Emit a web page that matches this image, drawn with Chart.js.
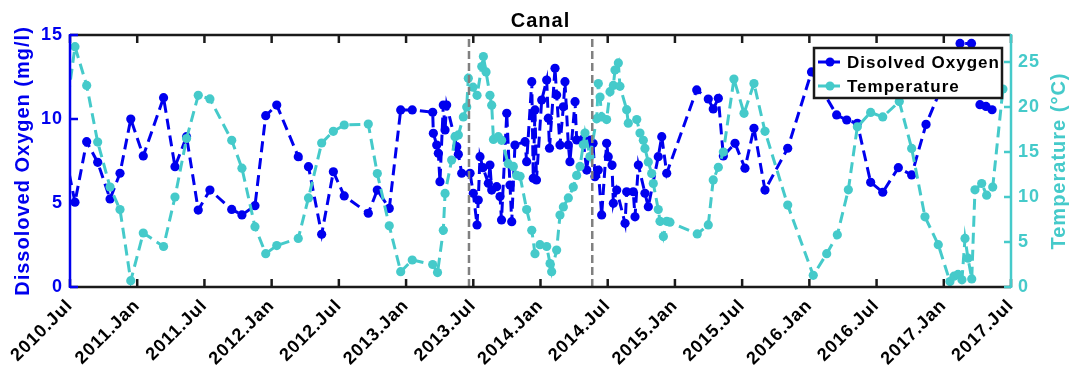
<!DOCTYPE html>
<html><head><meta charset="utf-8">
<script src="https://cdn.jsdelivr.net/npm/chart.js@4.4.1/dist/chart.umd.min.js"></script>
<style>html,body{margin:0;padding:0;background:#fff;}canvas{display:block;}</style>
</head><body>
<canvas id="c" width="1078" height="367"></canvas>
<script>
// ---- data (decimal years) ----
const doYears = [2010.470,2010.537,2010.624,2010.706,2010.798,2010.872,2010.952,2011.045,2011.196,2011.281,2011.367,2011.454,2011.541,2011.703,2011.779,2011.876,2011.956,2012.038,2012.198,2012.274,2012.372,2012.459,2012.540,2012.719,2012.786,2012.875,2012.960,2013.046,2013.198,2013.203,2013.228,2013.240,2013.252,2013.277,2013.290,2013.302,2013.377,2013.389,2013.414,2013.476,2013.500,2013.528,2013.537,2013.550,2013.572,2013.612,2013.624,2013.637,2013.674,2013.699,2013.710,2013.749,2013.773,2013.786,2013.810,2013.885,2013.897,2013.935,2013.946,2013.959,2013.970,2014.009,2014.046,2014.058,2014.067,2014.108,2014.120,2014.145,2014.170,2014.182,2014.207,2014.219,2014.257,2014.269,2014.316,2014.344,2014.368,2014.391,2014.405,2014.430,2014.455,2014.492,2014.504,2014.532,2014.542,2014.567,2014.629,2014.641,2014.690,2014.703,2014.728,2014.777,2014.802,2014.876,2014.902,2014.939,2015.162,2015.248,2015.285,2015.323,2015.360,2015.447,2015.521,2015.588,2015.670,2015.839,2016.016,2016.203,2016.278,2016.357,2016.456,2016.546,2016.662,2016.761,2016.868,2017.121,2017.206,2017.269,2017.314,2017.359];
const doValues = [7.7,5.05,8.65,7.42,5.24,6.77,10.0,7.8,11.27,7.16,8.95,4.58,5.77,4.62,4.29,4.84,10.2,10.83,7.76,7.16,3.14,6.86,5.42,4.39,5.77,4.68,10.54,10.54,10.4,9.15,8.45,7.96,6.27,10.83,9.35,10.83,8.35,7.9,6.77,6.77,5.58,3.69,5.18,7.76,7.1,6.17,7.26,5.77,5.97,5.38,3.99,10.34,6.07,3.89,8.45,8.65,7.46,12.22,6.47,10.54,6.37,11.13,12.32,10.04,8.26,13.02,11.43,8.45,10.73,12.22,8.45,7.46,11.03,8.75,8.8,6.96,8.75,8.55,6.57,6.96,4.29,8.55,7.76,7.26,4.98,5.77,3.79,5.67,5.67,4.18,7.26,5.58,4.78,7.76,8.95,6.77,11.73,11.19,10.6,11.23,7.8,8.55,7.07,9.45,5.77,8.26,12.8,10.24,9.94,9.74,6.23,5.64,7.1,6.67,9.68,14.5,14.5,10.85,10.75,10.55];
const tempYears = [2010.470,2010.537,2010.624,2010.706,2010.798,2010.872,2010.952,2011.045,2011.196,2011.281,2011.367,2011.454,2011.541,2011.703,2011.779,2011.876,2011.956,2012.038,2012.198,2012.274,2012.372,2012.459,2012.540,2012.719,2012.786,2012.875,2012.960,2013.046,2013.198,2013.234,2013.277,2013.290,2013.339,2013.364,2013.389,2013.426,2013.451,2013.463,2013.498,2013.528,2013.563,2013.575,2013.595,2013.624,2013.637,2013.650,2013.686,2013.711,2013.760,2013.798,2013.823,2013.848,2013.897,2013.935,2013.959,2013.996,2014.046,2014.071,2014.083,2014.120,2014.145,2014.170,2014.207,2014.244,2014.269,2014.294,2014.318,2014.331,2014.368,2014.418,2014.430,2014.443,2014.455,2014.492,2014.517,2014.542,2014.554,2014.579,2014.591,2014.641,2014.653,2014.716,2014.740,2014.765,2014.777,2014.802,2014.827,2014.839,2014.876,2014.889,2014.914,2014.939,2014.963,2015.166,2015.248,2015.285,2015.323,2015.360,2015.439,2015.514,2015.588,2015.670,2015.839,2016.029,2016.129,2016.208,2016.290,2016.357,2016.456,2016.546,2016.669,2016.761,2016.860,2016.959,2017.046,2017.076,2017.106,2017.135,2017.158,2017.180,2017.208,2017.232,2017.282,2017.319,2017.364,2017.440];
const tempValues = [19.3,26.7,22.4,16.1,11.1,8.6,0.7,6.0,4.5,10.0,16.5,21.3,20.9,16.3,13.2,6.7,3.7,4.6,5.4,9.9,16.0,17.3,18.0,18.1,12.6,6.8,1.7,3.0,2.5,1.6,6.3,10.4,14.1,16.7,16.9,18.9,20.0,23.2,22.2,21.3,24.5,25.6,23.9,21.3,20.2,16.4,16.7,16.3,13.7,13.4,12.4,12.3,8.6,6.3,3.7,4.7,4.5,2.6,1.7,4.1,8.0,8.9,9.9,11.1,12.4,13.4,15.8,17.1,14.5,18.7,22.6,21.1,18.9,18.6,21.7,22.4,24.1,24.9,22.3,19.7,18.2,18.6,17.1,16.3,15.4,13.9,12.6,11.5,8.6,7.3,5.6,7.3,7.2,5.9,6.9,11.9,13.3,15.0,23.1,19.3,22.6,17.3,9.1,1.3,3.7,5.8,10.8,17.8,19.4,18.9,20.6,15.4,7.8,4.7,0.6,1.2,1.4,0.8,5.4,3.2,0.9,10.8,11.5,10.2,11.1,22.0];
const periodMarks = [2013.468, 2014.385];
const xTickValues = [2010.5,2011.0,2011.5,2012.0,2012.5,2013.0,2013.5,2014.0,2014.5,2015.0,2015.5,2016.0,2016.5,2017.0,2017.5];
const xTickLabels = ['2010.Jul','2011.Jan','2011.Jul','2012.Jan','2012.Jul','2013.Jan','2013.Jul','2014.Jan','2014.Jul','2015.Jan','2015.Jul','2016.Jan','2016.Jul','2017.Jan','2017.Jul'];
const leftTickValues = [0,5,10,15];
const rightTickValues = [0,5,10,15,20,25];
const seriesNames = ['Disolved Oxygen','Temperature'];
const chartTitle = 'Canal';
const leftTitle = 'Dissoloved Oxygen (mg/l)';
const rightTitle = 'Temperature (\u00B0C)';

// ---- styles ----
const BLUE = '#0000EE', CYAN = '#45CACA', DARK = '#1a1a1a', GRAY = '#808080';
const FAM = "'Liberation Sans', Arial, sans-serif";
Chart.defaults.font.family = FAM;

const decorPlugin = {
  id: 'decor',
  beforeUpdate(chart){ chart.ctx.letterSpacing = '1px'; },
  beforeDraw(chart){ chart.ctx.letterSpacing = '1px'; },
  afterDraw(chart){
    const ctx = chart.ctx, ca = chart.chartArea, xs = chart.scales.x, yl = chart.scales.yL, yr = chart.scales.yR;
    const ln = (x1,y1,x2,y2)=>{ctx.beginPath();ctx.moveTo(x1,y1);ctx.lineTo(x2,y2);ctx.stroke();};
    ctx.save();
    ctx.setLineDash([]);
    ctx.lineWidth = 2.5;
    ctx.strokeStyle = DARK;
    xTickValues.forEach(v=>{const p=xs.getPixelForValue(v); ln(p,ca.bottom,p,ca.bottom-8); ln(p,ca.top,p,ca.top+8);});
    ln(ca.left, ca.top, ca.right, ca.top);
    ln(ca.left, ca.bottom, ca.right, ca.bottom);
    ctx.strokeStyle = BLUE;
    leftTickValues.forEach(v=>{const p=yl.getPixelForValue(v); ln(ca.left,p,ca.left+8,p);});
    ln(ca.left, ca.top-1, ca.left, ca.bottom+1);
    ctx.strokeStyle = CYAN;
    rightTickValues.forEach(v=>{const p=yr.getPixelForValue(v); ln(ca.right,p,ca.right-7,p);});
    ln(ca.right, ca.top-1, ca.right, ca.bottom+1);

    // legend
    const lx = ca.right - 197, ly = ca.top + 13, lw = 188, lh = 50;
    ctx.fillStyle = '#fff'; ctx.fillRect(lx, ly, lw, lh);
    ctx.strokeStyle = DARK; ctx.lineWidth = 2.5; ctx.strokeRect(lx, ly, lw, lh);
    const rows = [[BLUE, seriesNames[0], ly+14], [CYAN, seriesNames[1], ly+38]];
    rows.forEach(([c,t,y])=>{
      ctx.strokeStyle = c; ctx.fillStyle = c; ctx.lineWidth = 3; ctx.setLineDash([9,4]);
      ln(lx+4, y, lx+27, y); ctx.setLineDash([]);
      ctx.beginPath(); ctx.arc(lx+16, y, 4.5, 0, Math.PI*2); ctx.fill();
      ctx.fillStyle = '#000'; ctx.font = 'bold 17px ' + FAM; ctx.textAlign='left'; ctx.textBaseline='middle';
      ctx.fillText(t, lx+33, y+1);
    });

    // title
    ctx.fillStyle = '#000'; ctx.font = 'bold 20px ' + FAM; ctx.textAlign='center'; ctx.textBaseline='alphabetic';
    ctx.fillText(chartTitle, (ca.left+ca.right)/2, 27);
    // axis titles
    const cy = (ca.top+ca.bottom)/2;
    ctx.font = 'bold 20px ' + FAM; ctx.textBaseline='middle';
    ctx.save(); ctx.translate(23, cy); ctx.rotate(-Math.PI/2); ctx.fillStyle = BLUE; ctx.fillText(leftTitle, 0, 0); ctx.restore();
    ctx.save(); ctx.translate(ca.right+48, cy); ctx.rotate(-Math.PI/2); ctx.fillStyle = CYAN; ctx.fillText(rightTitle, 0, 0); ctx.restore();
    ctx.restore();
  }
};

const pts = (xa, ya) => xa.map((x,i)=>({x, y: ya[i]}));
const clipOpt = {left:0, top:6, right:0, bottom:6};
const datasets = [
  ...periodMarks.map(m => ({data:[{x:m,y:0},{x:m,y:15}], yAxisID:'yL', borderColor:GRAY, borderWidth:2.5, borderDash:[8,4], pointRadius:0, order:0, clip:0})),
  {label:seriesNames[1], data:pts(tempYears,tempValues), yAxisID:'yR', borderColor:CYAN, backgroundColor:CYAN, borderWidth:3, borderDash:[11,6], pointRadius:4.6, pointBorderWidth:0, pointHoverRadius:4.6, tension:0, order:1, clip:clipOpt},
  {label:seriesNames[0], data:pts(doYears,doValues), yAxisID:'yL', borderColor:BLUE, backgroundColor:BLUE, borderWidth:3, borderDash:[11,6], pointRadius:4.6, pointBorderWidth:0, pointHoverRadius:4.6, tension:0, order:2, clip:clipOpt}
];

new Chart(document.getElementById('c'), {
  type:'line',
  data:{datasets},
  options:{
    responsive:false, animation:false, devicePixelRatio:1,
    layout:{padding:{top:35,left:0,right:0,bottom:0}},
    plugins:{legend:{display:false}, title:{display:false}, tooltip:{enabled:false}},
    events:[],
    scales:{
      x:{type:'linear', min:2010.5, max:2017.5,
        grid:{display:false, drawTicks:false}, border:{display:false},
        afterBuildTicks:s=>{s.ticks = xTickValues.map(v=>({value:v}));},
        afterFit:s=>{s.height = 80;},
        ticks:{autoSkip:false, maxRotation:45, minRotation:45, padding:8, color:'#000', font:{size:18, weight:'bold'},
          callback:v=>{const i = xTickValues.findIndex(t=>Math.abs(t-v)<1e-6); return i>=0 ? xTickLabels[i] : '';}}
      },
      yL:{type:'linear', position:'left', min:0, max:15,
        grid:{display:false, drawTicks:false}, border:{display:false},
        afterBuildTicks:s=>{s.ticks = leftTickValues.map(v=>({value:v}));},
        afterFit:s=>{s.width = 70;},
        ticks:{padding:7, color:BLUE, font:{size:18, weight:'bold'}}
      },
      yR:{type:'linear', position:'right', min:0, max:28,
        grid:{display:false, drawTicks:false}, border:{display:false},
        afterBuildTicks:s=>{s.ticks = rightTickValues.map(v=>({value:v}));},
        afterFit:s=>{s.width = 67;},
        ticks:{padding:7, color:CYAN, font:{size:18, weight:'bold'}}
      }
    }
  },
  plugins:[decorPlugin]
});
</script>
</body></html>
